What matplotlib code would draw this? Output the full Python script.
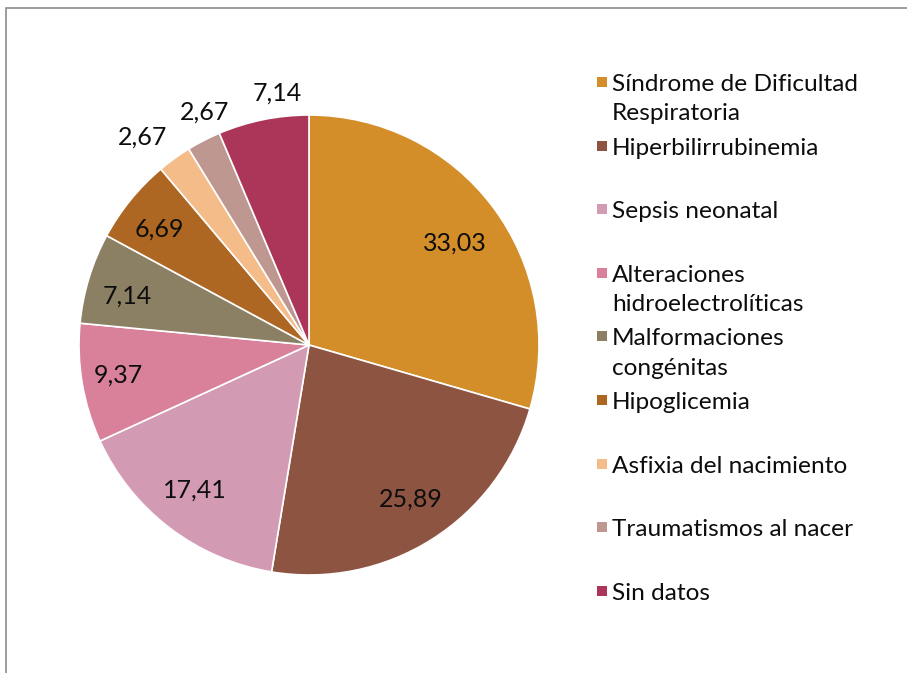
import numpy as np
import matplotlib.pyplot as plt
from matplotlib.patches import Rectangle

plt.rcParams['font.family'] = ['Lato', 'DejaVu Sans']

categories = ["Síndrome de Dificultad\nRespiratoria", "Hiperbilirrubinemia", "Sepsis neonatal",
              "Alteraciones\nhidroelectrolíticas", "Malformaciones\ncongénitas", "Hipoglicemia",
              "Asfixia del nacimiento", "Traumatismos al nacer", "Sin datos"]
values = [33.03, 25.89, 17.41, 9.37, 7.14, 6.69, 2.67, 2.67, 7.14]
colors = ["#D38E2A", "#8E5442", "#D39BB3", "#D9819A", "#8C8064",
          "#AD6722", "#F4BC88", "#BE9790", "#AC3659"]
# label placement: distance from centre (fraction of radius) and angle nudge (deg)
label_r = [0.774, 0.803, 0.802, 0.84, 0.82, 0.82, 1.157, 1.11, 1.105]
label_da = [-2.0, 1.3, -0.9, -0.7, 2.0, 1.4, 2.8, -3.1, -4.3]

W, H = 907, 673
fig = plt.figure(figsize=(W / 100, H / 100), dpi=100)

cx, cy, r = 309, 345, 230
ax = fig.add_axes([(cx - r) / W, (H - cy - r) / H, 2 * r / W, 2 * r / H])
wedges, _ = ax.pie(values, colors=colors, startangle=90, counterclock=False,
                   wedgeprops=dict(edgecolor="white", linewidth=1.2))
ax.set_xlim(-1, 1)
ax.set_ylim(-1, 1)
ax.set_aspect("equal")

for w, v, d, da in zip(wedges, values, label_r, label_da):
    mid = np.deg2rad((w.theta1 + w.theta2) / 2 + da)
    ax.text(d * np.cos(mid), d * np.sin(mid), f"{v:.2f}".replace(".", ","),
            ha="center", va="center", fontsize=18, color="#0d0d0d")

# legend drawn by hand so the two-line labels sit like the original
y0, step = 82, 63.6
for i, (lab, c) in enumerate(zip(categories, colors)):
    y = y0 + i * step
    fig.patches.append(Rectangle((597 / W, 1 - (y + 5) / H), 10 / W, 10 / H,
                                 transform=fig.transFigure, facecolor=c, edgecolor="none"))
    fig.text(612 / W, 1 - (y - 8) / H, lab, ha="left", va="top", fontsize=17.6,
             color="#0d0d0d", linespacing=1.5)

# chart-area border (top and left visible)
fig.patches.append(Rectangle((5.5 / W, -0.1), 1.2, 1.1 - 8.5 / H, transform=fig.transFigure,
                             fill=False, edgecolor="#8c8c8c", linewidth=1.2))

fig.savefig("out.png", dpi=100)
